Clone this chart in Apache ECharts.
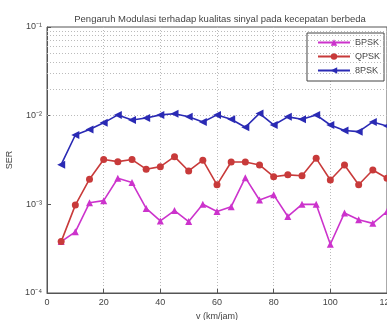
<!DOCTYPE html>
<html><head><meta charset="utf-8">
<script src="https://cdn.jsdelivr.net/npm/echarts@6/dist/echarts.min.js"></script>
<style>html,body{margin:0;padding:0;background:#fff}#c{width:387px;height:320px}</style>
</head><body><div id="c"></div>
<script>
const speeds = [5,10,15,20,25,30,35,40,45,50,55,60,65,70,75,80,85,90,95,100,105,110,115,120];
const bpsk = [3.8e-4,4.9e-4,1.04e-3,1.1e-3,1.97e-3,1.76e-3,9.0e-4,6.5e-4,8.5e-4,6.4e-4,1.0e-3,8.3e-4,9.4e-4,2.0e-3,1.12e-3,1.28e-3,7.3e-4,1.0e-3,1.0e-3,3.55e-4,8.0e-4,6.7e-4,6.1e-4,8.3e-4];
const qpsk = [3.8e-4,9.8e-4,1.92e-3,3.2e-3,3.03e-3,3.2e-3,2.49e-3,2.66e-3,3.45e-3,2.38e-3,3.15e-3,1.66e-3,3.0e-3,3.0e-3,2.78e-3,2.05e-3,2.15e-3,2.1e-3,3.3e-3,1.88e-3,2.78e-3,1.66e-3,2.44e-3,1.97e-3];
const psk8 = [2.8e-3,6.05e-3,7.0e-3,8.3e-3,1.02e-2,8.95e-3,9.4e-3,1.02e-2,1.05e-2,9.7e-3,8.5e-3,1.02e-2,9.1e-3,7.4e-3,1.06e-2,7.85e-3,9.7e-3,9.1e-3,1.02e-2,7.85e-3,6.8e-3,6.6e-3,8.5e-3,7.65e-3];
const seriesNames = ['BPSK','QPSK','8PSK'];
const xTicks = [0,20,40,60,80,100,120];
const yTickLabels = {'-4':'10⁻⁴','-3':'10⁻³','-2':'10⁻²','-1':'10⁻¹'};
const hGridValues = [2e-4,3e-4,4e-4,5e-4,6e-4,7e-4,8e-4,9e-4,1e-3,2e-3,3e-3,4e-3,5e-3,6e-3,7e-3,8e-3,9e-3,1e-2,2e-2,3e-2,4e-2,5e-2,6e-2,7e-2,8e-2,9e-2];

const font = 'Liberation Sans, Arial, sans-serif';
const chart = echarts.init(document.getElementById('c'), null, {renderer:'canvas'});
function pairs(v){ return speeds.map((s,i)=>[s,v[i]]); }
const gridLine = {color:'#bbb', type:[1,2], width:1};
chart.setOption({
  animation:false,
  backgroundColor:'#fff',
  textStyle:{fontFamily:font},
  title:{text:'Pengaruh Modulasi terhadap kualitas sinyal pada kecepatan berbeda', left:215, textAlign:'center', top:9,
    textStyle:{fontSize:9.5, fontWeight:'normal', color:'#444', fontFamily:font}},
  grid:{left:47, top:27, right:0, bottom:27, containLabel:false, outerBoundsMode:'none', show:true, borderColor:'#555', borderWidth:1},
  legend:{orient:'vertical', right:3, top:33, data:seriesNames, borderColor:'#444', borderWidth:1, backgroundColor:'#fff',
    padding:[5,4,6,10], itemGap:5, itemWidth:32, itemHeight:8, textStyle:{fontSize:9, color:'#444', fontFamily:font}},
  xAxis:{type:'value', min:0, max:120, interval:20,
    name:'v (km/jam)', nameLocation:'middle', nameGap:18, nameTextStyle:{fontSize:9, color:'#444'},
    axisLine:{lineStyle:{color:'#555'}}, axisTick:{inside:true, length:4, lineStyle:{color:'#555'}},
    axisLabel:{fontSize:9, color:'#444', margin:5, formatter:v=> xTicks.includes(v)? String(v):''},
    splitLine:{show:true, lineStyle:gridLine}},
  yAxis:{type:'log', logBase:10, min:1e-4, max:1e-1,
    name:'SER', nameLocation:'middle', nameGap:33, nameRotate:90, nameTextStyle:{fontSize:9, color:'#444'},
    axisLine:{lineStyle:{color:'#555'}}, axisTick:{inside:true, length:4, lineStyle:{color:'#555'}},
    axisLabel:{fontSize:9, color:'#444', margin:5, formatter:v=> yTickLabels[String(Math.round(Math.log10(v)))]||''},
    splitLine:{show:false}},
  series:[
    {name:'BPSK', type:'line', data:pairs(bpsk), symbol:'triangle', symbolSize:7,
      itemStyle:{color:'#cc33cc'}, lineStyle:{color:'#cc33cc', width:1.6}, z:3,
      markLine:{silent:true, symbol:'none', label:{show:false}, lineStyle:gridLine, animation:false,
        data:hGridValues.map(v=>({yAxis:v}))}},
    {name:'QPSK', type:'line', data:pairs(qpsk), symbol:'circle', symbolSize:7,
      itemStyle:{color:'#c83a3a'}, lineStyle:{color:'#c83a3a', width:1.6}, z:4},
    {name:'8PSK', type:'line', data:pairs(psk8), symbol:'triangle', symbolRotate:90, symbolSize:8,
      itemStyle:{color:'#2a2ab4'}, lineStyle:{color:'#2a2ab4', width:1.6}, z:5}
  ]
});
</script></body></html>
